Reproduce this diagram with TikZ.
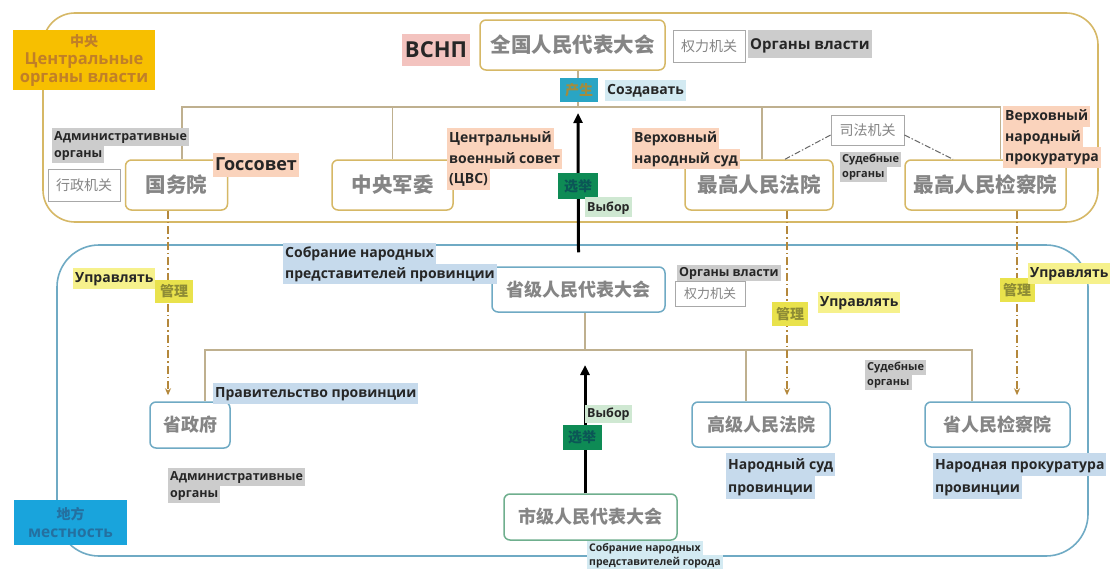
\documentclass[tikz,border=0pt]{standalone}
\usepackage{fontspec}
\newfontfamily\cjk{Noto Sans CJK SC}
\newfontfamily\rus{Open Sans}
\usetikzlibrary{arrows.meta}
\definecolor{goldline}{HTML}{D6B866}
\definecolor{blueline}{HTML}{6FAAC4}
\definecolor{greenline}{HTML}{6FAF8E}
\definecolor{connline}{HTML}{BFB08F}
\definecolor{nodegray}{HTML}{858585}
\definecolor{amber}{HTML}{F7BF00}
\definecolor{ambertext}{HTML}{C07F28}
\definecolor{localfill}{HTML}{19A4DC}
\definecolor{localtext}{HTML}{2470A0}
\definecolor{pinkhl}{HTML}{F3C3BF}
\definecolor{orangehl}{HTML}{FAD3BC}
\definecolor{grayhl}{HTML}{CCCCCC}
\definecolor{bluehl}{HTML}{C6DAEC}
\definecolor{cyanhl}{HTML}{D3EAF2}
\definecolor{greenhl}{HTML}{CFE8D2}
\definecolor{yellowhl}{HTML}{F6F18C}
\definecolor{tealtag}{HTML}{2AA5C4}
\definecolor{tealtagtext}{HTML}{A48C3C}
\definecolor{greentag}{HTML}{0E8B55}
\definecolor{greentagtext}{HTML}{0B5656}
\definecolor{yellowtag}{HTML}{E9E24C}
\definecolor{yellowtagtext}{HTML}{8E8C35}
\definecolor{mgmt}{HTML}{B4883C}
\definecolor{boxgray}{HTML}{A8A8A8}
\newcommand\hl[2]{{\setlength\fboxsep{0pt}\colorbox{#1}{\strut\hspace{2pt}#2\hspace{2pt}}}}
\begin{document}
\begin{tikzpicture}[x=1pt,y=-1pt,
  cnode/.style={draw, rounded corners=6pt, line width=1.5pt, fill=white, inner sep=0pt, text=nodegray, font=\cjk\bfseries\fontsize{20.5}{24}\selectfont},
  topnode/.style={cnode, draw=goldline},
  provnode/.style={cnode, draw=blueline, font=\cjk\bfseries\fontsize{18}{22}\selectfont},
  citynode/.style={provnode, draw=greenline},
  cnlabel/.style={draw=boxgray, line width=0.8pt, fill=white, inner sep=0pt, text=nodegray, font=\cjk\fontsize{14}{16}\selectfont},
  lab/.style={inner sep=0pt, anchor=north west, align=left, text=black!85, font=\rus\bfseries\fontsize{14}{20.5}\selectfont},
  smalllab/.style={lab, font=\rus\bfseries\fontsize{12.5}{17.5}\selectfont},
  tinylab/.style={lab, font=\rus\bfseries\fontsize{11}{15}\selectfont},
  tag/.style={inner sep=0pt, font=\cjk\bfseries\fontsize{14}{15}\selectfont},
  conn/.style={draw=connline, line width=1.2pt},
  elect/.style={line width=3pt, -{Triangle[length=10pt,width=9pt]}},
  manage/.style={draw=mgmt, line width=1.8pt, dash pattern=on 8pt off 3pt on 1.5pt off 3pt, -{Stealth[length=7pt,width=6pt]}, shorten >=6pt},
  judic/.style={draw=black!60, line width=1pt, dash pattern=on 6pt off 2pt on 1.5pt off 2pt},
]
\useasboundingbox (0,0) rectangle (1115,570);
\fill[white] (0,0) rectangle (1115,570);

% frames
\draw[draw=goldline, line width=1.6pt, rounded corners=32pt] (43,13) rectangle (1098,222);
\draw[draw=blueline, line width=1.6pt, rounded corners=42pt] (57,245) rectangle (1088,556);

% central nodes
\node[topnode, minimum width=185pt, minimum height=50pt] (npc) at (572.5,45) {全国人民代表大会};
\node[topnode, minimum width=102pt, minimum height=50pt] (gwy) at (176.5,185) {国务院};
\node[topnode, minimum width=121pt, minimum height=50pt] (jwy) at (392.5,185) {中央军委};
\node[topnode, minimum width=148pt, minimum height=50pt] (zgf) at (759,185) {最高人民法院};
\node[topnode, minimum width=161pt, minimum height=50pt] (zgj) at (985.5,185) {最高人民检察院};
\node[cnlabel, minimum width=73pt, minimum height=30pt] (sfjg) at (867.5,130) {司法机关};
\node[cnlabel, minimum width=72pt, minimum height=32pt] (xzjg) at (84,185) {行政机关};
\node[cnlabel, minimum width=72pt, minimum height=32pt] (qljg) at (709,46) {权力机关};

\coordinate (bus1) at (578,107);
\draw[conn] (npc.south -| bus1) -- (bus1);
\draw[conn] (bus1) -| ([xshift=5.5pt]gwy.north);
\draw[conn] (bus1) -| (jwy.north);
\draw[conn] (bus1) -| ([xshift=3pt]zgf.north);
\draw[conn] (bus1) -| ([xshift=15pt]zgj.north);
\draw[judic] ([yshift=-5pt]sfjg.west) -- ([xshift=26pt]zgf.north);
\draw[judic] ([yshift=-5pt]sfjg.east) -- ([xshift=-32.5pt]zgj.north);

% local nodes
\node[provnode, minimum width=173pt, minimum height=45pt] (prov) at (578.5,289.5) {省级人民代表大会};
\node[provnode, minimum width=80pt, minimum height=46pt] (szf) at (190,425) {省政府};
\node[provnode, minimum width=138pt, minimum height=45pt] (gjf) at (761,424.5) {高级人民法院};
\node[provnode, minimum width=145pt, minimum height=45pt] (sjc) at (997.5,424.5) {省人民检察院};
\node[citynode, minimum width=173pt, minimum height=46pt] (city) at (590.5,517) {市级人民代表大会};
\node[cnlabel, font=\cjk\fontsize{13}{15}\selectfont, minimum width=70pt, minimum height=25pt] (qljg2) at (710,293.5) {权力机关};

\coordinate (bus2) at (585,350);
\draw[conn] (prov.south -| bus2) -- (bus2);
\draw[conn] (bus2) -| ([xshift=15pt]szf.north);
\draw[conn] (bus2) -| ([xshift=-15pt]gjf.north);
\draw[conn] (bus2) -| ([xshift=-25.5pt]sjc.north);

% election arrows
\draw[elect] ([yshift=14pt]prov.north) -- ([yshift=-6pt]bus1);
\draw[elect] (city.north -| bus2) -- ([yshift=-15pt]bus2);

% management arrows
\coordinate (m1) at (168,0);
\coordinate (m2) at (787,0);
\coordinate (m3) at (1017,0);
\draw[manage] (gwy.south -| m1) -- (szf.north -| m1);
\draw[manage] (zgf.south -| m2) -- (gjf.north -| m2);
\draw[manage] (zgj.south -| m3) -- (sjc.north -| m3);

% region tags
\node[fill=amber, minimum width=142pt, minimum height=60pt, inner sep=0pt, align=center, text=ambertext, font=\rus\bfseries\fontsize{16.5}{18}\selectfont] (central) at (84,60) {{\cjk\bfseries\fontsize{14}{18}\selectfont 中央}\\Центральные\\органы власти};
\node[fill=localfill, minimum width=113pt, minimum height=45pt, inner sep=0pt, align=center, text=localtext, font=\rus\bfseries\fontsize{15.5}{18}\selectfont] (local) at (70.5,522.5) {{\cjk\bfseries\fontsize{14}{18}\selectfont 地方}\\местность};

% verb tags
\node[tag, fill=tealtag, text=tealtagtext, minimum width=38pt, minimum height=24pt] (cs) at (579,90) {产生};
\node[tag, fill=greentag, text=greentagtext, minimum width=40pt, minimum height=26pt] (xj1) at (578,186) {选举};
\node[tag, fill=greentag, text=greentagtext, minimum width=39pt, minimum height=25pt] (xj2) at (582,437) {选举};
\node[tag, fill=yellowtag, text=yellowtagtext, minimum width=38pt, minimum height=23pt] (gl1) at (174,291) {管理};
\node[tag, fill=yellowtag, text=yellowtagtext, minimum width=36pt, minimum height=24pt] (gl2) at (790,314) {管理};
\node[tag, fill=yellowtag, text=yellowtagtext, minimum width=35pt, minimum height=24pt] (gl3) at (1017,290) {管理};

% russian labels
\node[fill=pinkhl, inner sep=0pt, minimum width=68pt, minimum height=32pt, font=\rus\bfseries\fontsize{22}{26}\selectfont, text=black!85] (vsnp) at (436,50) {ВСНП};
\node[lab, font=\rus\bfseries\fontsize{15}{28}\selectfont] (org1) at (748,30) {\hl{grayhl}{Органы власти}};
\node[lab] (sozd) at (605,80) {\hl{cyanhl}{Создавать}};
\node[smalllab] (adm1) at (52,128) {\hl{grayhl}{Административные}\\\hl{grayhl}{органы}};
\node[lab, font=\rus\bfseries\fontsize{18}{24}\selectfont] (gos) at (213,153) {\hl{orangehl}{Госсовет}};
\node[lab] (cvs) at (447,128) {\hl{orangehl}{Центральный}\\\hl{orangehl}{военный совет}\\\hl{orangehl}{(ЦВС)}};
\node[lab] (vns) at (632,128) {\hl{orangehl}{Верховный}\\\hl{orangehl}{народный суд}};
\node[lab] (vnp) at (1003,106) {\hl{orangehl}{Верховный}\\\hl{orangehl}{народный}\\\hl{orangehl}{прокуратура}};
\node[tinylab] (sud1) at (840,152) {\hl{grayhl}{Судебные}\\\hl{grayhl}{органы}};
\node[tinylab, font=\rus\bfseries\fontsize{12.5}{20}\selectfont] (vyb1) at (585,197) {\hl{greenhl}{Выбор}};
\node[lab] (sobr1) at (283,243) {\hl{bluehl}{Собрание народных}\\\hl{bluehl}{представителей провинции}};
\node[tinylab, font=\rus\bfseries\fontsize{12.5}{16}\selectfont] (org2) at (677,265) {\hl{grayhl}{Органы власти}};
\node[lab] (upr1) at (73,268) {\hl{yellowhl}{Управлять}};
\node[lab] (upr2) at (818,292) {\hl{yellowhl}{Управлять}};
\node[lab] (upr3) at (1028,263) {\hl{yellowhl}{Управлять}};
\node[lab] (prav) at (213,383) {\hl{bluehl}{Правительство провинции}};
\node[smalllab] (adm2) at (168,468) {\hl{grayhl}{Административные}\\\hl{grayhl}{органы}};
\node[tinylab] (sud2) at (865,360) {\hl{grayhl}{Судебные}\\\hl{grayhl}{органы}};
\node[tinylab, font=\rus\bfseries\fontsize{12.5}{18}\selectfont] (vyb2) at (585,405) {\hl{greenhl}{Выбор}};
\node[lab, font=\rus\bfseries\fontsize{14}{23}\selectfont] (nsp) at (726,453) {\hl{bluehl}{Народный суд}\\\hl{bluehl}{провинции}};
\node[lab, font=\rus\bfseries\fontsize{14}{23}\selectfont] (npp) at (933,453) {\hl{bluehl}{Народная прокуратура}\\\hl{bluehl}{провинции}};
\node[tinylab, font=\rus\bfseries\fontsize{10.5}{14}\selectfont] (sobr2) at (587,541) {\hl{cyanhl}{Собрание народных}\\\hl{cyanhl}{представителей города}};
\end{tikzpicture}
\end{document}
